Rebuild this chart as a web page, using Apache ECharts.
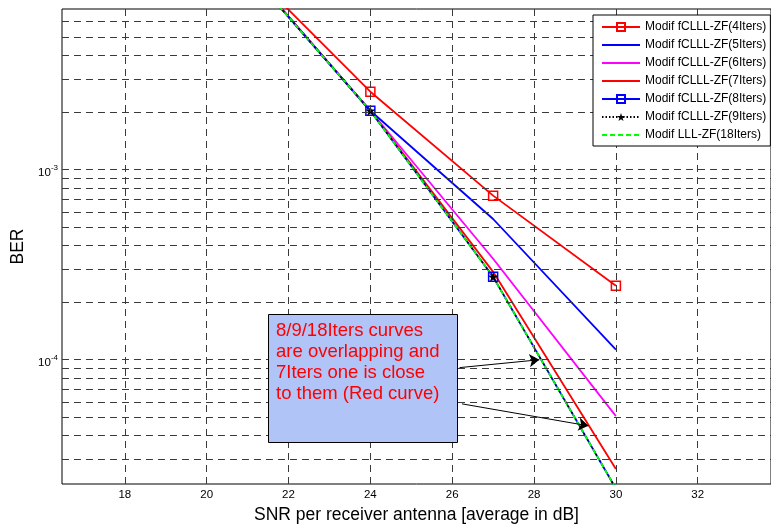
<!DOCTYPE html>
<html><head><meta charset="utf-8">
<script src="https://cdn.jsdelivr.net/npm/echarts@6/dist/echarts.min.js"></script>
<style>html,body{margin:0;padding:0;background:#fff}#c{width:771px;height:529px}</style>
</head><body><div id="c"></div>
<script>
// ---- data ----
const snr = [21, 24, 27, 30];
const ber4 = [1.14e-2, 2.57e-3, 7.3e-4, 2.45e-4];
const ber5 = [1.13e-2, 2.04e-3, 5.5e-4, 1.13e-4];
const ber6 = [1.13e-2, 2.04e-3, 3.4e-4, 5.05e-5];
const ber7 = [1.13e-2, 2.04e-3, 2.9e-4, 2.66e-5];
const ber8 = [1.12e-2, 2.04e-3, 2.73e-4, 2.1e-5];
const ber9 = [1.12e-2, 2.04e-3, 2.73e-4, 2.1e-5];
const ber18 = [1.12e-2, 2.04e-3, 2.73e-4, 2.1e-5];
const seriesNames = ['Modif fCLLL-ZF(4Iters)','Modif fCLLL-ZF(5Iters)','Modif fCLLL-ZF(6Iters)','Modif fCLLL-ZF(7Iters)','Modif fCLLL-ZF(8Iters)','Modif fCLLL-ZF(9Iters)','Modif LLL-ZF(18Iters)'];
const hasMarker = [true, false, false, false, true, true, false];
const xMin = 16.465, xMax = 33.79;
const yMin = 2.22e-5, yMax = 7e-3;
const xTicks = [18, 20, 22, 24, 26, 28, 30, 32];
const yGrid = [3e-5,4e-5,5e-5,6e-5,7e-5,8e-5,9e-5,1e-4,2e-4,3e-4,4e-4,5e-4,6e-4,7e-4,8e-4,9e-4,1e-3,2e-3,3e-3,4e-3,5e-3,6e-3];
const arrowTails = [[26.18, 9.09e-5], [26.24, 5.86e-5]];
const arrowHeads = [[28.13, 1.0e-4], [29.33, 4.49e-5]];
const noteText = '8/9/18Iters curves\nare overlapping and\n7Iters one is close\nto them (Red curve)';

const FF = '"Liberation Sans", Arial, Helvetica, sans-serif';
const pairs = arr => snr.map((x, i) => [x, arr[i]]);
const star = 'path://M0,-10 L2.35,-3.24 L9.51,-3.09 L3.8,1.24 L5.88,8.09 L0,4 L-5.88,8.09 L-3.8,1.24 L-9.51,-3.09 L-2.35,-3.24 Z';

function lineSeries(name, arr, color, opts) {
  return Object.assign({
    name: name, type: 'line', data: pairs(arr), z: 3,
    symbol: 'none', showSymbol: false,
    lineStyle: { color: color, width: 1.8, type: 'solid' },
    itemStyle: { color: color },
    emphasis: { disabled: true }
  }, opts || {});
}

const gridLineData = yGrid.map(v => [{ coord: [xMin, v] }, { coord: [xMax, v] }])
  .concat(xTicks.map(v => [{ coord: [v, yMin] }, { coord: [v, yMax] }]));

const legendData = seriesNames.map((n, i) => hasMarker[i] ? { name: n } : { name: n, itemStyle: { opacity: 0 } });

const chart = echarts.init(document.getElementById('c'), null, { renderer: 'canvas' });
chart.setOption({
  animation: false,
  backgroundColor: '#fff',
  textStyle: { fontFamily: FF },
  grid: { left: 62, top: 9, right: -2, bottom: 41.5, show: true, borderColor: '#000', borderWidth: 1, backgroundColor: 'transparent' },
  xAxis: {
    type: 'value', min: xMin, max: xMax,
    axisLine: { show: false },
    axisTick: { show: true, inside: true, length: 5, customValues: xTicks, lineStyle: { color: '#000' } },
    axisLabel: { customValues: xTicks, margin: 5, color: '#000', fontSize: 11.5, fontFamily: FF },
    splitLine: { show: false },
    name: 'SNR per receiver antenna [average in dB]', nameLocation: 'middle', nameGap: 22,
    nameTextStyle: { fontSize: 17.5, color: '#000', fontFamily: FF }
  },
  yAxis: {
    type: 'log', logBase: 10, min: yMin, max: yMax,
    axisLine: { show: false }, axisTick: { show: false }, splitLine: { show: false },
    axisLabel: {
      margin: 4, padding: [7, 0, 0, 0],
      formatter: function (v) {
        const e = Math.log10(v), r = Math.round(e);
        return Math.abs(e - r) < 1e-6 ? '{b|10}{s|' + r + '}' : '';
      },
      rich: {
        b: { fontSize: 11.5, lineHeight: 19, color: '#000', fontFamily: FF },
        s: { fontSize: 8, lineHeight: 8, verticalAlign: 'top', color: '#000', fontFamily: FF }
      }
    },
    name: 'BER', nameLocation: 'middle', nameGap: 31,
    nameTextStyle: { fontSize: 17.5, color: '#000', fontFamily: FF }
  },
  legend: {
    orient: 'vertical', left: 593, top: 15, padding: [6, 4, 5, 8], itemGap: 6,
    itemWidth: 38, itemHeight: 10, backgroundColor: '#fff', borderColor: '#000', borderWidth: 1,
    textStyle: { fontSize: 12, color: '#000', fontFamily: FF },
    data: legendData, z: 20
  },
  graphic: [
    { type: 'rect', z: 100, shape: { x: 268.5, y: 314.5, width: 189, height: 128 }, style: { fill: '#b0c4f8', stroke: '#000', lineWidth: 1 } },
    { type: 'text', z: 101, x: 276, y: 320, style: { text: noteText, fill: '#ff0000', font: '18.5px ' + FF, lineHeight: 21 } }
  ],
  series: [
    { type: 'line', data: [], z: 1, silent: true,
      markLine: { silent: true, symbol: ['none', 'none'], label: { show: false }, animation: false,
        lineStyle: { color: '#3a3a3a', width: 1, type: [7, 5] },
        emphasis: { disabled: true },
        data: gridLineData } },
    lineSeries(seriesNames[0], ber4, '#ff0000', { symbol: 'rect', showSymbol: true, symbolSize: 9,
      itemStyle: { color: 'rgba(255,255,255,0)', borderColor: '#ff0000', borderWidth: 1.5 } }),
    lineSeries(seriesNames[1], ber5, '#0000ff'),
    lineSeries(seriesNames[2], ber6, '#ff00ff'),
    lineSeries(seriesNames[3], ber7, '#ff0000'),
    lineSeries(seriesNames[4], ber8, '#0000ff', { symbol: 'rect', showSymbol: true, symbolSize: 9,
      itemStyle: { color: 'rgba(255,255,255,0)', borderColor: '#0000ff', borderWidth: 1.5 } }),
    lineSeries(seriesNames[5], ber9, '#000000', { symbol: star, showSymbol: true, symbolSize: 10,
      lineStyle: { color: '#000', width: 1.5, type: [1.5, 2] }, itemStyle: { color: '#000' } }),
    lineSeries(seriesNames[6], ber18, '#00ff00', { lineStyle: { color: '#00ff00', width: 1.8, type: [5, 3] } }),
    { type: 'line', data: [], z: 6, silent: true,
      markLine: { silent: true, symbol: ['none', 'arrow'], symbolSize: 10, label: { show: false }, animation: false,
        lineStyle: { color: '#000', width: 1, type: 'solid' }, emphasis: { disabled: true },
        data: arrowTails.map((t, i) => [{ coord: t }, { coord: arrowHeads[i] }]) } }
  ]
});
</script></body></html>
